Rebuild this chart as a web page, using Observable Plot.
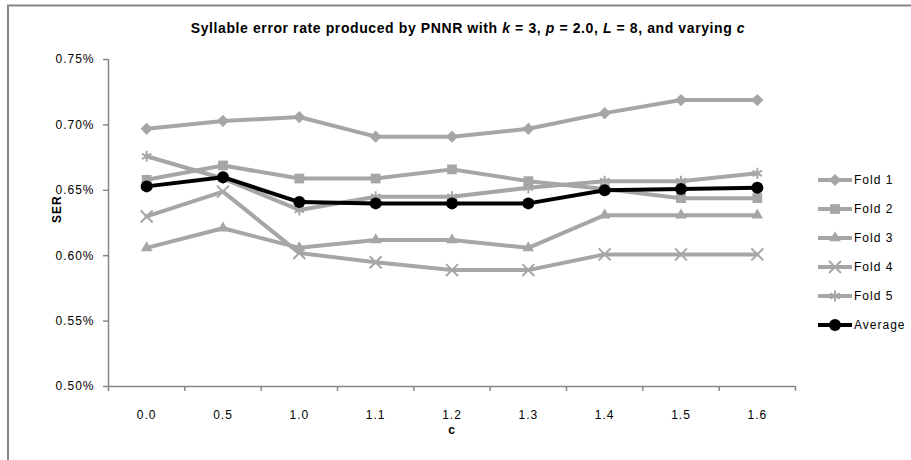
<!DOCTYPE html>
<html>
<head>
<meta charset="utf-8">
<script src="https://cdn.jsdelivr.net/npm/d3@7"></script>
<script src="https://cdn.jsdelivr.net/npm/@observablehq/plot@0.6"></script>
<style>
  body { margin: 0; background: #fff; }
  #chart svg { display: block; }
</style>
</head>
<body>
<div id="chart"></div>
<script>
// Values of c along the horizontal axis
const cLabels = ["0.0", "0.5", "1.0", "1.1", "1.2", "1.3", "1.4", "1.5", "1.6"];

// Syllable error rate (%) per cross-validation fold
const fold1 = [0.697, 0.703, 0.706, 0.691, 0.691, 0.697, 0.709, 0.719, 0.719];
const fold2 = [0.658, 0.669, 0.659, 0.659, 0.666, 0.657, 0.651, 0.644, 0.644];
const fold3 = [0.606, 0.621, 0.606, 0.612, 0.612, 0.606, 0.631, 0.631, 0.631];
const fold4 = [0.630, 0.649, 0.602, 0.595, 0.589, 0.589, 0.601, 0.601, 0.601];
const fold5 = [0.676, 0.659, 0.635, 0.645, 0.645, 0.652, 0.657, 0.657, 0.663];
const average = [0.653, 0.660, 0.641, 0.640, 0.640, 0.640, 0.650, 0.651, 0.652];

const yTicks = [0.50, 0.55, 0.60, 0.65, 0.70, 0.75];

const grey = "#a6a6a6";
const axisGrey = "#868686";
const font = "'Liberation Sans', Arial, sans-serif";

const series = [
  {name: "Fold 1", values: fold1, color: grey, symbol: "diamond2", r: 5.5, filled: true},
  {name: "Fold 2", values: fold2, color: grey, symbol: "square", r: 5.5, filled: true},
  {name: "Fold 3", values: fold3, color: grey, symbol: "triangle", r: 4.3, filled: true},
  {name: "Fold 4", values: fold4, color: grey, symbol: "times", r: 5.5, filled: false},
  {name: "Fold 5", values: fold5, color: grey, symbol: "asterisk", r: 5.2, filled: false},
  {name: "Average", values: average, color: "#000", symbol: "circle", r: 6, filled: true}
];

const rowsOf = s => s.values.map((v, i) => ({i, v}));

const marks = [];
for (const s of series) {
  const rows = rowsOf(s);
  marks.push(Plot.line(rows, {x: "i", y: "v", stroke: s.color, strokeWidth: 4}));
  marks.push(Plot.dot(rows, s.filled
    ? {x: "i", y: "v", symbol: () => s.symbol, r: s.r, fill: s.color, stroke: "none"}
    : {x: "i", y: "v", symbol: () => s.symbol, r: s.r, fill: "none", stroke: s.color, strokeWidth: 2}));
}

const chart = Plot.plot({
  width: 911,
  height: 460,
  marginLeft: 108,
  marginRight: 116,
  marginTop: 59,
  marginBottom: 74,
  style: {fontFamily: font, fontSize: "12px", letterSpacing: "1px", color: "#000", background: "#fff"},
  x: {type: "linear", domain: [-0.5, cLabels.length - 0.5], axis: null},
  y: {domain: [0.50, 0.75], axis: null},
  symbol: {type: "identity"},
  marks: [
    // y axis: ticks and labels
    Plot.axisY({ticks: yTicks, tickSize: 5, tickPadding: 9, stroke: axisGrey, strokeWidth: 1.5,
      tickFormat: d => d.toFixed(2) + "%", label: null, fill: "#000"}),
    // x axis: ticks on category boundaries, labels at category centres
    Plot.axisX({ticks: d3.range(-0.5, cLabels.length, 1), tickSize: 5, stroke: axisGrey, strokeWidth: 1.5,
      tickFormat: () => "", label: null}),
    Plot.axisX({ticks: d3.range(cLabels.length), tickSize: 0, tickPadding: 24,
      tickFormat: i => cLabels[i], label: null, fill: "#000"}),
    Plot.ruleX([-0.5], {stroke: axisGrey, strokeWidth: 1.5}),
    Plot.ruleY([0.50], {stroke: axisGrey, strokeWidth: 1.5}),
    Plot.text(["SER"], {frameAnchor: "left", dx: -51, rotate: -90, fontWeight: "bold", fontSize: 12}),
    Plot.text(["c"], {frameAnchor: "bottom", dy: 47, fontWeight: "bold", fontSize: 12}),
    ...marks
  ]
});

const svg = d3.select(chart);

// Chart area border (top and left edges)
svg.append("line").attr("x1", 7).attr("x2", 911).attr("y1", 5.5).attr("y2", 5.5)
  .attr("stroke", axisGrey).attr("stroke-width", 2);
svg.append("line").attr("x1", 8).attr("x2", 8).attr("y1", 5).attr("y2", 460)
  .attr("stroke", axisGrey).attr("stroke-width", 2);

// Title with italic parameter names
const title = svg.append("text")
  .attr("x", 468).attr("y", 33)
  .attr("text-anchor", "middle")
  .attr("font-weight", "bold")
  .attr("font-size", 14)
  .attr("letter-spacing", "0.6px")
  .attr("font-family", font);
const parts = [
  ["Syllable error rate produced by PNNR with ", false],
  ["k", true], [" = 3, ", false],
  ["p", true], [" = 2.0, ", false],
  ["L", true], [" = 8, and varying ", false],
  ["c", true]
];
for (const [t, it] of parts) {
  title.append("tspan").attr("font-style", it ? "italic" : "normal").text(t);
}

// Legend
const legend = svg.append("g")
  .attr("font-family", font)
  .attr("font-size", 12)
  .attr("text-anchor", "start");
series.forEach((s, k) => {
  const y = 180 + k * 29;
  const g = legend.append("g").attr("transform", `translate(0,${y})`);
  g.append("line").attr("x1", 818).attr("x2", 852).attr("y1", 0).attr("y2", 0)
    .attr("stroke", s.color).attr("stroke-width", 4);
  const sym = {
    diamond2: d3.symbolDiamond2, square: d3.symbolSquare, triangle: d3.symbolTriangle,
    times: d3.symbolTimes, asterisk: d3.symbolAsterisk, circle: d3.symbolCircle
  }[s.symbol];
  const path = g.append("path")
    .attr("transform", "translate(835,0)")
    .attr("d", d3.symbol(sym, Math.PI * s.r * s.r)());
  if (s.filled) path.attr("fill", s.color);
  else path.attr("fill", "none").attr("stroke", s.color).attr("stroke-width", 2);
  g.append("text").attr("x", 854).attr("dy", "0.35em").attr("text-anchor", "start").text(s.name);
});

document.getElementById("chart").appendChild(chart);
</script>
</body>
</html>
